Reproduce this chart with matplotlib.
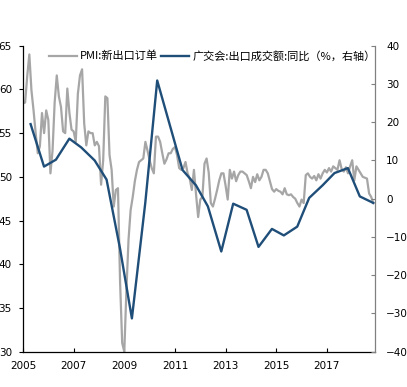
import matplotlib
matplotlib.use("Agg")
import matplotlib.pyplot as plt
import numpy as np

plt.rcParams['font.family'] = ['Noto Sans CJK SC', 'DejaVu Sans']

# PMI new export orders, monthly from Jan 2005
pmi = [58.4, 58.5, 61.5, 64.0, 59.9, 57.6, 55.0, 52.7, 53.5, 57.3, 55.0, 57.6,
       56.5, 50.4, 53.0, 58.5, 61.6, 59.2, 58.0, 55.2, 55.0, 60.1, 57.3, 55.4,
       55.2, 54.0, 59.5, 61.6, 62.3, 56.1, 53.6, 55.2, 55.0, 55.0, 53.6, 54.0,
       53.5, 49.1, 51.9, 59.2, 59.0, 52.5, 50.8, 46.6, 48.5, 48.7, 38.0, 31.0,
       30.0, 37.0, 42.8, 46.2, 47.7, 49.5, 50.8, 51.7, 51.9, 52.1, 54.0, 53.0,
       51.9, 51.0, 50.4, 54.6, 54.6, 54.0, 52.7, 51.5, 52.0, 52.7, 52.7, 53.2,
       53.4, 52.5, 51.0, 50.8, 51.0, 51.7, 50.4, 49.8, 48.5, 50.8, 48.0, 45.4,
       47.4, 47.7, 51.5, 52.1, 50.5, 47.0, 46.6, 47.5, 48.5, 49.6, 50.4, 50.4,
       49.0, 47.4, 50.8, 49.8, 50.6, 49.5, 50.2, 50.6, 50.6, 50.4, 50.2, 49.5,
       48.7, 50.0, 49.4, 50.3, 49.6, 50.0, 50.8, 50.8, 50.4, 49.5, 48.6, 48.3,
       48.6, 48.4, 48.3, 48.0, 48.7, 48.0, 47.9, 48.0, 47.7, 47.5, 47.0, 46.6,
       47.4, 47.0, 50.2, 50.4, 50.0, 49.8, 50.1, 49.6, 50.3, 49.8, 50.4, 50.8,
       50.5, 51.0, 50.6, 51.2, 51.0, 50.8, 51.9, 50.9, 50.6, 51.1, 50.4, 51.2,
       51.9, 49.6, 51.2, 50.8, 50.4, 50.0, 49.9, 49.8, 48.1, 47.7, 47.0]
pmi_x = 2005 + np.arange(len(pmi)) / 12.0

# Canton Fair export turnover yoy (%), spring / autumn sessions
fair_x = [2005.30, 2005.83, 2006.30, 2006.83, 2007.30, 2007.83, 2008.30, 2008.83,
          2009.30, 2009.83, 2010.30, 2010.83, 2011.30, 2011.83, 2012.30, 2012.83,
          2013.30, 2013.83, 2014.30, 2014.83, 2015.30, 2015.83, 2016.30, 2016.83,
          2017.30, 2017.83, 2018.30, 2018.83]
fair = [19.5, 8.4, 10.2, 15.7, 13.4, 10.0, 5.0, -13.0,
        -31.3, -1.0, 30.9, 18.5, 7.5, 3.5, -2.0, -13.8,
        -1.3, -2.9, -12.6, -7.9, -9.6, -7.3, 0.2, 3.5,
        6.7, 8.0, 0.6, -1.1]

left_ticks = [30, 35, 40, 45, 50, 55, 60, 65]
right_ticks = [-40, -30, -20, -10, 0, 10, 20, 30, 40]
x_ticks = [2005, 2007, 2009, 2011, 2013, 2015, 2017]

label_pmi = 'PMI:新出口订单'
label_fair = '广交会:出口成交额:同比（%，右轴）'

fig = plt.figure(figsize=(4.07, 3.87), dpi=100)
ax = fig.add_axes([23/407, 1-351.7/387, (375-23)/407, (351.7-45.7)/387])
ax2 = ax.twinx()

l1, = ax.plot(pmi_x, pmi, color='#A6A6A6', lw=1.6, label=label_pmi)
l2, = ax2.plot(fair_x, fair, color='#1F4E79', lw=1.7, label=label_fair)

ax.set_xlim(2005, 2018.9)
ax.set_ylim(30, 65)
ax2.set_ylim(-40, 40)
ax.set_xticks(x_ticks)
ax.set_xticklabels([str(t) for t in x_ticks])
ax.set_yticks(left_ticks)
ax2.set_yticks(right_ticks)

for a in (ax, ax2):
    a.spines['top'].set_visible(False)
ax.spines['right'].set_visible(False)
ax2.spines['left'].set_visible(False)
ax2.spines['bottom'].set_visible(False)
ax.spines['left'].set_color('black')
ax.spines['bottom'].set_color('black')
ax2.spines['right'].set_color('#808080')
for s in ('left', 'bottom'):
    ax.spines[s].set_linewidth(0.9)
ax2.spines['right'].set_linewidth(0.9)

ax.tick_params(axis='y', direction='out', length=3, width=0.8, labelsize=7.5, pad=5,
               labelfontfamily='DejaVu Sans')
ax.tick_params(axis='x', direction='in', length=3, width=0.8, labelsize=7.5, pad=7,
               labelfontfamily='DejaVu Sans')
ax2.tick_params(axis='y', direction='in', length=3, width=0.8, color='#808080',
                labelsize=7.5, pad=8, labelfontfamily='DejaVu Sans')

fig.legend(handles=[l1, l2], loc='center left', bbox_to_anchor=(49/407, 1-56/387),
           ncol=2, frameon=False, fontsize=8, handlelength=2.5, handletextpad=0.3,
           columnspacing=0.3, borderaxespad=0, borderpad=0)

fig.savefig('out.png', dpi=100)
